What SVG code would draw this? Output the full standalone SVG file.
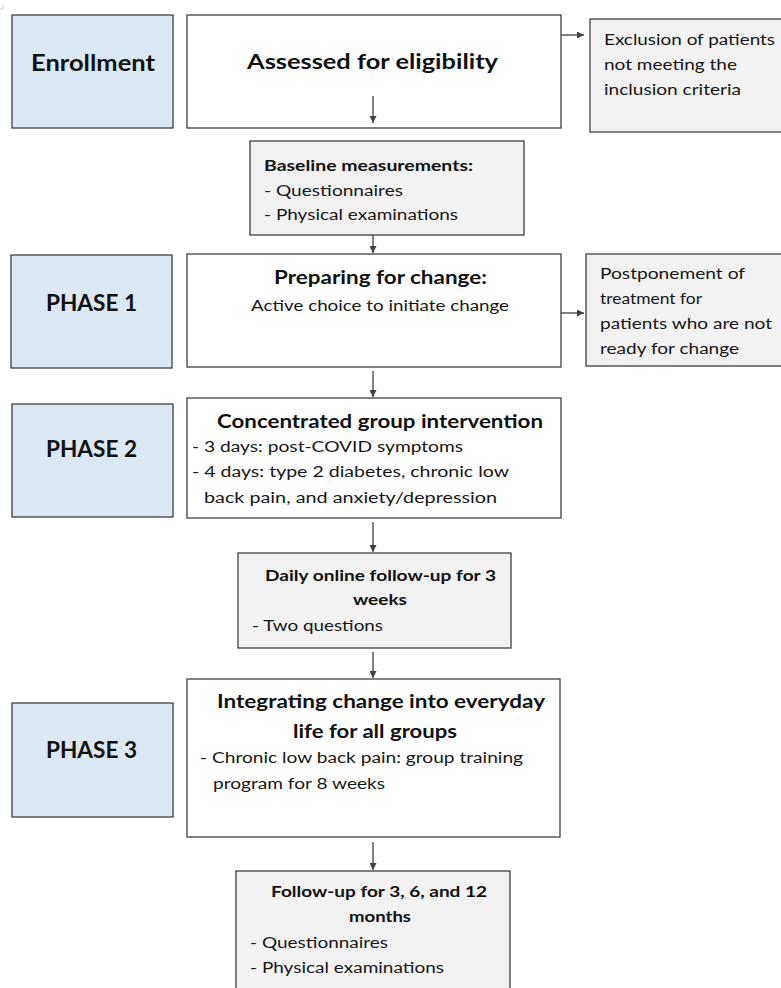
<svg xmlns="http://www.w3.org/2000/svg" width="781" height="988" viewBox="0 0 781 988">
<style>
.bx{stroke:#404040;stroke-width:1.3}
.ph{fill:#dde8f5}
.wh{fill:#ffffff}
.gr{fill:#f2f2f2}
text{font-family:Lato,"Liberation Sans",sans-serif;fill:#111111}
.big{font-size:23px;font-weight:700}
.ttl{font-size:19px;font-weight:700}
.sub{font-size:16px;font-weight:700}
.n{font-size:15.5px;fill:#161616}
.c{stroke:#404040;stroke-width:1.3;fill:none}
</style>
<defs>
<marker id="ah" viewBox="0 0 10 10" refX="10" refY="5" markerWidth="7" markerHeight="7" markerUnits="userSpaceOnUse" orient="auto">
<path d="M0,0 L10,5 L0,10 z" fill="#404040"/>
</marker>
</defs>
<rect width="781" height="988" fill="#ffffff"/>
<path d="M3,5 V9 H0" stroke="#c8c8c8" stroke-width="1" fill="none"/>

<g id="enrollment">
<rect class="bx ph" x="12" y="15" width="161" height="113"/>
<text class="big" x="31" y="71" textLength="124" lengthAdjust="spacingAndGlyphs">Enrollment</text>
</g>
<g id="assessed">
<rect class="bx wh" x="187" y="15" width="374" height="113"/>
<text class="big" style="font-size:21px" x="247" y="69" textLength="251" lengthAdjust="spacingAndGlyphs">Assessed for eligibility</text>
</g>
<g id="exclusion">
<rect class="bx gr" x="590" y="19" width="200" height="113"/>
<text class="n" x="604" y="45" textLength="171" lengthAdjust="spacingAndGlyphs">Exclusion of patients</text>
<text class="n" x="604" y="70" textLength="133" lengthAdjust="spacingAndGlyphs">not meeting the</text>
<text class="n" x="604" y="95" textLength="137" lengthAdjust="spacingAndGlyphs">inclusion criteria</text>
</g>
<g id="baseline">
<rect class="bx gr" x="250" y="141" width="274" height="94"/>
<text class="sub" x="264" y="171" textLength="209" lengthAdjust="spacingAndGlyphs">Baseline measurements:</text>
<text class="n" x="264" y="196" textLength="139" lengthAdjust="spacingAndGlyphs">- Questionnaires</text>
<text class="n" x="264" y="220" textLength="194" lengthAdjust="spacingAndGlyphs">- Physical examinations</text>
</g>
<g id="phase1">
<rect class="bx ph" x="11" y="255" width="161" height="113"/>
<text class="big" style="font-size:22px" x="46" y="311" textLength="91" lengthAdjust="spacingAndGlyphs">PHASE 1</text>
</g>
<g id="preparing">
<rect class="bx wh" x="187" y="254" width="374" height="113"/>
<text class="ttl" x="274" y="284" textLength="213" lengthAdjust="spacingAndGlyphs">Preparing for change:</text>
<text class="n" x="251" y="311" textLength="258" lengthAdjust="spacingAndGlyphs">Active choice to initiate change</text>
</g>
<g id="postponement">
<rect class="bx gr" x="586" y="254" width="204" height="112"/>
<text class="n" x="600" y="279" textLength="145" lengthAdjust="spacingAndGlyphs">Postponement of</text>
<text class="n" x="600" y="304" textLength="102" lengthAdjust="spacingAndGlyphs">treatment for</text>
<text class="n" x="600" y="329" textLength="172" lengthAdjust="spacingAndGlyphs">patients who are not</text>
<text class="n" x="600" y="354" textLength="139" lengthAdjust="spacingAndGlyphs">ready for change</text>
</g>
<g id="phase2">
<rect class="bx ph" x="12" y="404" width="161" height="113"/>
<text class="big" style="font-size:22px" x="46" y="457" textLength="91" lengthAdjust="spacingAndGlyphs">PHASE 2</text>
</g>
<g id="concentrated">
<rect class="bx wh" x="187" y="398" width="374" height="120"/>
<text class="ttl" x="217" y="428" textLength="326" lengthAdjust="spacingAndGlyphs">Concentrated group intervention</text>
<text class="n" x="192" y="452" textLength="271" lengthAdjust="spacingAndGlyphs">- 3 days: post-COVID symptoms</text>
<text class="n" x="192" y="477" textLength="317" lengthAdjust="spacingAndGlyphs">- 4 days: type 2 diabetes, chronic low</text>
<text class="n" x="204" y="503" textLength="293" lengthAdjust="spacingAndGlyphs">back pain, and anxiety/depression</text>
</g>
<g id="daily">
<rect class="bx gr" x="238" y="553" width="273" height="95"/>
<text class="sub" x="265" y="581" textLength="231" lengthAdjust="spacingAndGlyphs">Daily online follow-up for 3</text>
<text class="sub" x="353" y="605" textLength="54" lengthAdjust="spacingAndGlyphs">weeks</text>
<text class="n" x="252" y="631" textLength="131" lengthAdjust="spacingAndGlyphs">- Two questions</text>
</g>
<g id="phase3">
<rect class="bx ph" x="12" y="703" width="161" height="114"/>
<text class="big" style="font-size:22px" x="46" y="758" textLength="91" lengthAdjust="spacingAndGlyphs">PHASE 3</text>
</g>
<g id="integrating">
<rect class="bx wh" x="187" y="679" width="373" height="158"/>
<text class="ttl" x="217" y="708" textLength="328" lengthAdjust="spacingAndGlyphs">Integrating change into everyday</text>
<text class="ttl" x="293" y="738" textLength="164" lengthAdjust="spacingAndGlyphs">life for all groups</text>
<text class="n" x="200" y="763" textLength="323" lengthAdjust="spacingAndGlyphs">- Chronic low back pain: group training</text>
<text class="n" x="213" y="789" textLength="172" lengthAdjust="spacingAndGlyphs">program for 8 weeks</text>
</g>
<g id="followup">
<rect class="bx gr" x="236" y="871" width="274" height="130"/>
<text class="sub" x="271" y="897" textLength="216" lengthAdjust="spacingAndGlyphs">Follow-up for 3, 6, and 12</text>
<text class="sub" x="349" y="922" textLength="62" lengthAdjust="spacingAndGlyphs">months</text>
<text class="n" x="250" y="948" textLength="138" lengthAdjust="spacingAndGlyphs">- Questionnaires</text>
<text class="n" x="250" y="973" textLength="194" lengthAdjust="spacingAndGlyphs">- Physical examinations</text>
</g>

<g id="connectors">
<line class="c" x1="561" y1="35" x2="584" y2="35" marker-end="url(#ah)"/>
<line class="c" x1="373" y1="96" x2="373" y2="123" marker-end="url(#ah)"/>
<line class="c" x1="373" y1="235" x2="373" y2="253" marker-end="url(#ah)"/>
<line class="c" x1="561" y1="313" x2="584" y2="313" marker-end="url(#ah)"/>
<line class="c" x1="373" y1="371" x2="373" y2="397" marker-end="url(#ah)"/>
<line class="c" x1="373" y1="522" x2="373" y2="552" marker-end="url(#ah)"/>
<line class="c" x1="373" y1="652" x2="373" y2="678" marker-end="url(#ah)"/>
<line class="c" x1="373" y1="842" x2="373" y2="870" marker-end="url(#ah)"/>
</g>
</svg>
